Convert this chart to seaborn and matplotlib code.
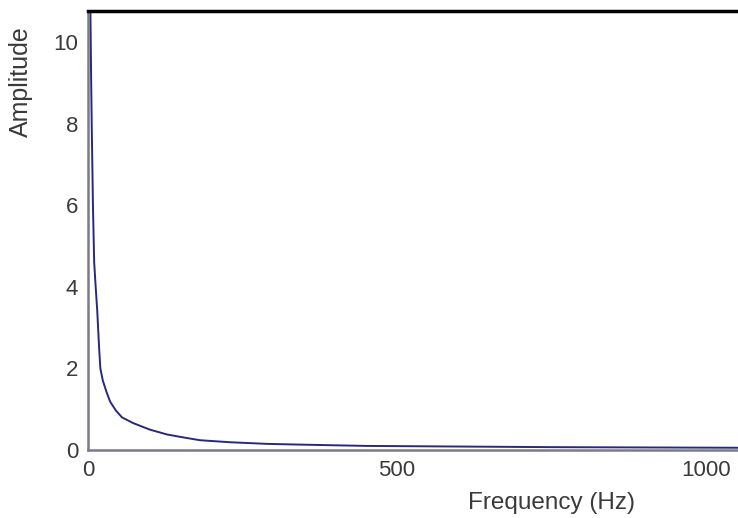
import matplotlib
matplotlib.use("Agg")
import matplotlib.pyplot as plt
import seaborn as sns
import pandas as pd

freq_hz = [1, 2, 3, 4, 5, 6, 8, 10, 12, 15, 18, 20, 24, 30, 36, 45, 55, 73, 100,
           128, 150, 181, 230, 290, 350, 451, 550, 650, 750, 850, 950, 1052]
amplitude = [16, 13, 11.5, 10.6, 9.2, 8.0, 6.0, 4.6, 4.1, 3.4, 2.5, 2.0, 1.7, 1.42,
             1.18, 0.97, 0.8, 0.66, 0.5, 0.38, 0.32, 0.24, 0.19, 0.15, 0.13, 0.10,
             0.09, 0.08, 0.07, 0.065, 0.06, 0.055]
x_ticks = [0, 500, 1000]
y_ticks = [0, 2, 4, 6, 8, 10]

df = pd.DataFrame({"Frequency (Hz)": freq_hz, "Amplitude": amplitude})

sns.set_style("white")
plt.rcParams['font.family'] = ['Liberation Sans', 'DejaVu Sans']

fig = plt.figure(figsize=(7.38, 5.18), dpi=100)
ax = fig.add_axes([88/738, 68/518, 650/738, 439/518])
sns.lineplot(data=df, x="Frequency (Hz)", y="Amplitude", ax=ax,
             color="#28287e", linewidth=1.4)
ax.set_xlim(0, 1052)
ax.set_ylim(0, 10.76)
ax.set_xticks(x_ticks)
ax.set_yticks(y_ticks)
ax.tick_params(direction="in", length=6, width=1.2, colors="#555555",
               labelsize=16, labelcolor="#3a3a3a")
ax.tick_params(axis="x", pad=7)
ax.tick_params(axis="y", pad=7)
for side in ["left", "bottom"]:
    ax.spines[side].set_color("#7a7a88")
    ax.spines[side].set_linewidth(1.8)
ax.spines["top"].set_color("black")
ax.spines["top"].set_linewidth(2.5)
ax.spines["right"].set_visible(False)
ax.set_xlabel("Frequency (Hz)", fontsize=17.5, color="#3a3a3a")
ax.set_ylabel("Amplitude", fontsize=18, color="#3a3a3a")
ax.xaxis.set_label_coords((552-88)/650, -(492-450)/439)
ax.yaxis.set_label_coords(-(88-33)/650, (450-82)/439)
fig.savefig("out.png", dpi=100)
